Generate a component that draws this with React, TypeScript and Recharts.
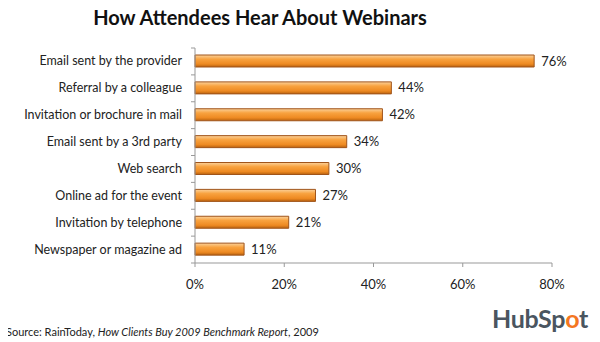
import React from "react";
import { BarChart, Bar, XAxis, YAxis, LabelList } from "recharts";

// Fuentes de descubrimiento de webinars (valores en %)
const sources = [
  "Email sent by the provider",
  "Referral by a colleague",
  "Invitation or brochure in mail",
  "Email sent by a 3rd party",
  "Web search",
  "Online ad for the event",
  "Invitation by telephone",
  "Newspaper or magazine ad",
];
const shares = [76, 44, 42, 34, 30, 27, 21, 11];
const xTicks = [0, 20, 40, 60, 80];

const data = sources.map((name, i) => ({ name, value: shares[i] }));

const W = 600;
const H = 342;
const TOP = 48;
const BOTTOM = 49;
const XAXIS_H = 30;
const FONT = "Lato, 'Open Sans', sans-serif";

const bandHalf = (H - TOP - BOTTOM - XAXIS_H) / sources.length / 2;

function CategoryTick(props: any) {
  const { x, y, payload, index } = props;
  return (
    <g>
      <line x1={x - 4} x2={x} y1={y - bandHalf} y2={y - bandHalf} stroke="#999" />
      {index === sources.length - 1 && (
        <line x1={x - 4} x2={x} y1={y + bandHalf} y2={y + bandHalf} stroke="#999" />
      )}
      <text x={x - 13} y={y} dy={4} textAnchor="end" fontSize={12.5} fill="#222" fontFamily={FONT}>
        {payload.value}
      </text>
    </g>
  );
}

export default function App() {
  return (
    <div
      style={{
        position: "relative",
        width: W,
        height: H,
        marginLeft: -8,
        marginTop: -8,
        background: "#fff",
        fontFamily: FONT,
        overflow: "hidden",
      }}
    >
      <div
        style={{
          position: "absolute",
          top: 5,
          left: 0,
          width: 520,
          textAlign: "center",
          fontSize: 20,
          fontWeight: 700,
          color: "#111",
        }}
      >
        How Attendees Hear About Webinars
      </div>
      <BarChart
        width={W}
        height={H}
        data={data}
        layout="vertical"
        margin={{ top: TOP, right: 48, bottom: BOTTOM, left: 0 }}
        barSize={12}
      >
        <defs>
          <linearGradient id="orangeBar" x1="0" y1="0" x2="0" y2="1">
            <stop offset="0%" stopColor="#fbd29c" />
            <stop offset="35%" stopColor="#f8a23f" />
            <stop offset="75%" stopColor="#ee8a22" />
            <stop offset="100%" stopColor="#b9620f" />
          </linearGradient>
        </defs>
        <XAxis
          type="number"
          domain={[0, 80]}
          ticks={xTicks}
          height={XAXIS_H}
          tickFormatter={(v) => `${v}%`}
          axisLine={{ stroke: "#999" }}
          tickLine={{ stroke: "#999" }}
          tickSize={4}
          tickMargin={13}
          tick={{ fontSize: 13, fill: "#222", fontFamily: FONT }}
        />
        <YAxis
          type="category"
          dataKey="name"
          width={195}
          axisLine={{ stroke: "#999" }}
          tickLine={false}
          tickSize={0}
          tickMargin={0}
          tick={<CategoryTick />}
          interval={0}
        />
        <Bar dataKey="value" fill="url(#orangeBar)" stroke="#a0541a" strokeWidth={1} isAnimationActive={false}>
          <LabelList
            dataKey="value"
            position="right"
            offset={7}
            formatter={(v: any) => `${v}%`}
            style={{ fontSize: 13, fill: "#222", fontFamily: FONT }}
          />
        </Bar>
      </BarChart>
      <div style={{ position: "absolute", left: 6, top: 325, fontSize: 11, color: "#222" }}>
        Source: RainToday, <i>How Clients Buy 2009 Benchmark Report</i>, 2009
      </div>
      <div
        style={{
          position: "absolute",
          left: 492,
          top: 303,
          fontSize: 25,
          fontWeight: 700,
          color: "#4a5560",
          letterSpacing: -0.3,
        }}
      >
        HubSp<span style={{ color: "#f47622" }}>o</span>t
      </div>
    </div>
  );
}
